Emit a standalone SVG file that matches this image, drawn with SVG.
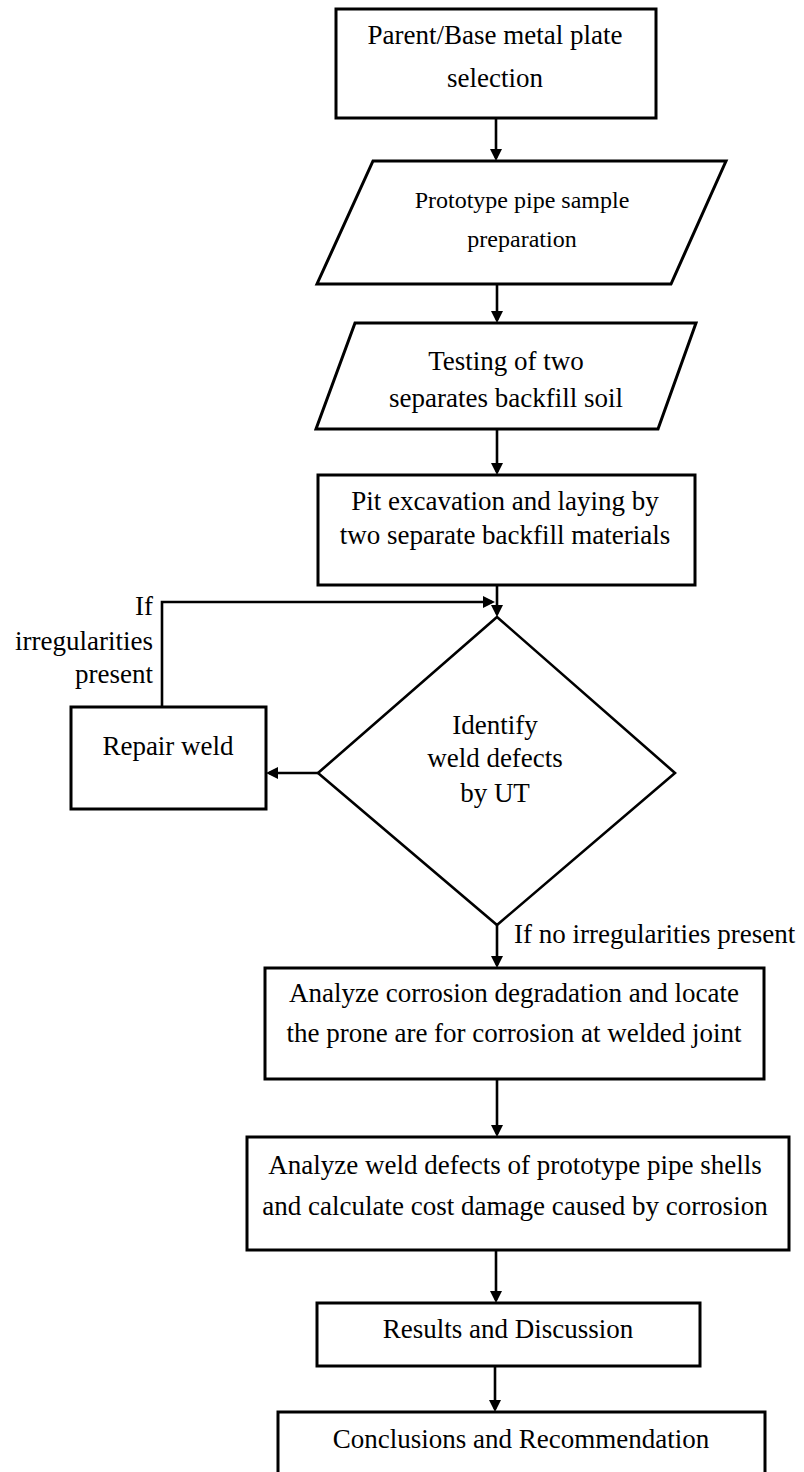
<svg xmlns="http://www.w3.org/2000/svg" width="804" height="1472" viewBox="0 0 804 1472">
<defs>
<marker id="ah" markerUnits="userSpaceOnUse" markerWidth="14" markerHeight="14" refX="9" refY="6" orient="auto">
<path d="M0,0 L12,6 L0,12 z" fill="#000"/>
</marker>
<style>
.n{fill:#fff;stroke:#000;stroke-width:3}
.d{fill:#fff;stroke:#000;stroke-width:2.6}
.c{fill:none;stroke:#000;stroke-width:2.6;marker-end:url(#ah)}
.t{font-family:"Liberation Serif","Times New Roman",serif;font-size:27px;fill:#000;text-anchor:middle}
.s{font-size:24px}
.l{font-family:"Liberation Serif","Times New Roman",serif;font-size:27px;fill:#000}
</style>
</defs>
<rect width="804" height="1472" fill="#fff"/>
<g id="connectors">
<path class="c" d="M496,118 V158"/>
<path class="c" d="M497,284 V320"/>
<path class="c" d="M497,429 V472"/>
<path class="c" d="M497,585 V614"/>
<path class="c" d="M162,707 V602 H492"/>
<path class="c" d="M318,773 H269"/>
<path class="c" d="M497,925 V965"/>
<path class="c" d="M497,1079 V1134"/>
<path class="c" d="M496,1250 V1300"/>
<path class="c" d="M495,1366 V1409"/>
</g>
<g id="n1">
<rect class="n" x="336" y="9" width="320" height="109"/>
<text class="t" x="495" y="44">Parent/Base metal plate</text>
<text class="t" x="495" y="87">selection</text>
</g>
<g id="n2">
<polygon class="n" points="373,161 726,161 671,284 317,284"/>
<text class="t s" x="522" y="208">Prototype pipe sample</text>
<text class="t s" x="522" y="247">preparation</text>
</g>
<g id="n3">
<polygon class="n" points="355,323 696,323 658,429 316,429"/>
<text class="t" x="506" y="370">Testing of two</text>
<text class="t" x="506" y="407">separates backfill soil</text>
</g>
<g id="n4">
<rect class="n" x="318" y="475" width="377" height="110"/>
<text class="t" x="505" y="510">Pit excavation and laying by</text>
<text class="t" x="505" y="544">two separate backfill materials</text>
</g>
<g id="n5">
<polygon class="d" points="497,617 675,773 497,925 318,773"/>
<text class="t" x="495" y="734">Identify</text>
<text class="t" x="495" y="767">weld defects</text>
<text class="t" x="495" y="802">by UT</text>
</g>
<g id="n6">
<rect class="n" x="71" y="707" width="195" height="102"/>
<text class="t" x="168" y="755">Repair weld</text>
</g>
<g id="labels">
<text class="l" x="153" y="615" text-anchor="end">If</text>
<text class="l" x="153" y="650" text-anchor="end">irregularities</text>
<text class="l" x="153" y="683" text-anchor="end">present</text>
<text class="l" x="514" y="943">If no irregularities present</text>
</g>
<g id="n7">
<rect class="n" x="265" y="968" width="499" height="111"/>
<text class="t" x="514" y="1002">Analyze corrosion degradation and locate</text>
<text class="t" x="514" y="1042">the prone are for corrosion at welded joint</text>
</g>
<g id="n8">
<rect class="n" x="247" y="1137" width="542" height="113"/>
<text class="t" x="515" y="1174">Analyze weld defects of prototype pipe shells</text>
<text class="t" x="515" y="1215">and calculate cost damage caused by corrosion</text>
</g>
<g id="n9">
<rect class="n" x="317" y="1303" width="383" height="63"/>
<text class="t" x="508" y="1338">Results and Discussion</text>
</g>
<g id="n10">
<rect class="n" x="278" y="1412" width="487" height="80"/>
<text class="t" x="521" y="1448">Conclusions and Recommendation</text>
</g>
</svg>
